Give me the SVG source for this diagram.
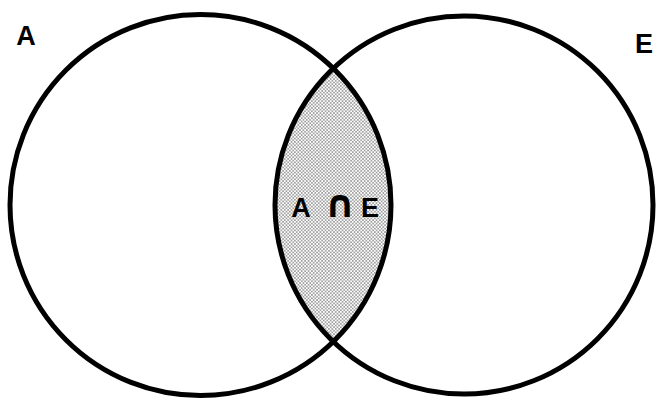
<svg xmlns="http://www.w3.org/2000/svg" width="657" height="403" viewBox="0 0 657 403">
  <defs>
    <pattern id="dots" width="3.4" height="3.4" patternUnits="userSpaceOnUse">
      <rect width="3.4" height="3.4" fill="#ffffff"/>
      <circle cx="0.85" cy="0.85" r="0.6" fill="#000"/>
      <circle cx="2.55" cy="2.55" r="0.6" fill="#000"/>
    </pattern>
    <clipPath id="clipA">
      <circle cx="200.5" cy="205" r="190.5"/>
    </clipPath>
  </defs>
  <style>
    .ring { fill: none; stroke: #000; stroke-width: 5; }
    .lbl { font-family: "Liberation Sans", Arial, sans-serif; font-weight: bold; font-size: 27px; fill: #000; }
    .cap { font-family: "DejaVu Sans", sans-serif; font-weight: bold; font-size: 38px; }
  </style>
  <rect width="657" height="403" fill="#ffffff"/>
  <g id="intersection">
    <circle cx="464" cy="205" r="189" fill="url(#dots)" clip-path="url(#clipA)"/>
  </g>
  <g id="setA">
    <circle class="ring" cx="200.5" cy="205" r="190.5"/>
    <text class="lbl" x="26" y="45" text-anchor="middle">A</text>
  </g>
  <g id="setE">
    <circle class="ring" cx="464" cy="205" r="189"/>
    <text class="lbl" x="644" y="53" text-anchor="middle">E</text>
  </g>
  <g id="intersectionLabel">
    <text class="lbl" y="217" text-anchor="middle"><tspan x="301">A</tspan><tspan class="cap" x="340">∩</tspan><tspan x="370">E</tspan></text>
  </g>
</svg>
